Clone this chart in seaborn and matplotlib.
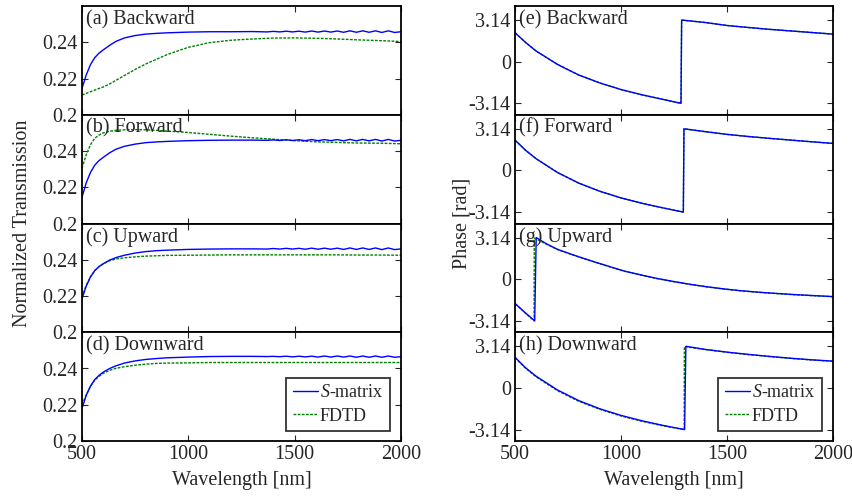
import numpy as np
import matplotlib.pyplot as plt
import seaborn as sns

# wavelength grids [nm]
wl_s = [500, 520, 540, 560, 580, 600, 630, 660, 700, 750, 800, 850, 900, 1000, 1100, 1200, 1300, 1370,
        1400, 1430, 1460, 1490, 1520, 1550, 1580, 1610, 1640, 1670, 1700, 1730, 1760, 1790, 1820, 1850,
        1880, 1910, 1940, 1970, 2000]
wl_f = [500, 520, 540, 560, 580, 600, 630, 660, 700, 750, 800, 850, 900, 1000, 1100, 1200, 1300, 1400,
        1500, 1600, 1700, 1800, 1900, 2000]

# normalized transmission, S-matrix
trans_s_a = [0.2145, 0.2220, 0.2277, 0.2315, 0.2340, 0.2358, 0.2383, 0.2405, 0.2424, 0.2437, 0.2445, 0.2449,
             0.2452, 0.2456, 0.2458, 0.2458, 0.2459, 0.2457,
             0.2460, 0.2457, 0.2461, 0.2457, 0.2461, 0.2456, 0.2462, 0.2456, 0.2462, 0.2456, 0.2462, 0.2455,
             0.2463, 0.2455, 0.2463, 0.2455, 0.2463, 0.2454, 0.2463, 0.2454, 0.2458]
trans_s_b = [0.2145, 0.2225, 0.2282, 0.2322, 0.2347, 0.2365, 0.2390, 0.2410, 0.2426, 0.2438, 0.2446, 0.2450,
             0.2453, 0.2457, 0.2459, 0.2460, 0.2460, 0.2459,
             0.2461, 0.2458, 0.2462, 0.2458, 0.2462, 0.2457, 0.2463, 0.2457, 0.2463, 0.2457, 0.2463, 0.2456,
             0.2464, 0.2456, 0.2464, 0.2456, 0.2464, 0.2455, 0.2464, 0.2455, 0.2459]
trans_s_c = [0.2185, 0.2255, 0.2305, 0.2340, 0.2362, 0.2378, 0.2398, 0.2412, 0.2425, 0.2437, 0.2445, 0.2450,
             0.2453, 0.2457, 0.2459, 0.2460, 0.2460, 0.2459,
             0.2462, 0.2459, 0.2463, 0.2459, 0.2463, 0.2458, 0.2464, 0.2458, 0.2464, 0.2458, 0.2464, 0.2457,
             0.2465, 0.2457, 0.2465, 0.2457, 0.2465, 0.2456, 0.2465, 0.2456, 0.2460]
trans_s_d = [0.2181, 0.2252, 0.2303, 0.2339, 0.2362, 0.2380, 0.2400, 0.2415, 0.2430, 0.2442, 0.2450, 0.2455,
             0.2459, 0.2463, 0.2466, 0.2467, 0.2467, 0.2466,
             0.2467, 0.2465, 0.2468, 0.2464, 0.2468, 0.2464, 0.2468, 0.2463, 0.2469, 0.2463, 0.2469, 0.2463,
             0.2469, 0.2462, 0.2469, 0.2462, 0.2469, 0.2462, 0.2469, 0.2462, 0.2465]

# normalized transmission, FDTD
trans_f_a = [0.2109, 0.2118, 0.2127, 0.2136, 0.2145, 0.2153, 0.2170, 0.2190, 0.2217, 0.2250, 0.2280, 0.2306,
             0.2332, 0.2372, 0.2398, 0.2411, 0.2418, 0.2423, 0.2424, 0.2422, 0.2418, 0.2413, 0.2409, 0.2404]
trans_f_b = [0.2305, 0.2380, 0.2435, 0.2470, 0.2488, 0.2500, 0.2509, 0.2514, 0.2517, 0.2518, 0.2517, 0.2514,
             0.2510, 0.2502, 0.2492, 0.2482, 0.2473, 0.2465, 0.2457, 0.2451, 0.2447, 0.2444, 0.2443, 0.2440]
trans_f_c = [0.2196, 0.2260, 0.2307, 0.2340, 0.2362, 0.2378, 0.2395, 0.2404, 0.2411, 0.2416, 0.2420, 0.2422,
             0.2424, 0.2425, 0.2426, 0.2427, 0.2427, 0.2427, 0.2427, 0.2427, 0.2427, 0.2426, 0.2426, 0.2425]
trans_f_d = [0.2200, 0.2255, 0.2302, 0.2336, 0.2357, 0.2373, 0.2390, 0.2401, 0.2410, 0.2418, 0.2424, 0.2428,
             0.2430, 0.2431, 0.2433, 0.2433, 0.2433, 0.2433, 0.2433, 0.2433, 0.2433, 0.2433, 0.2433, 0.2433]

# phase [rad]
wl_e = [500, 550, 600, 700, 800, 900, 1000, 1100, 1200, 1283, 1286, 1400, 1500, 1600, 1700, 1800, 1900, 2000]
phase_e = [2.19, 1.45, 0.80, -0.20, -1.00, -1.60, -2.10, -2.50, -2.85, -3.14, 3.14, 2.95, 2.73, 2.58, 2.44, 2.32, 2.20, 2.08]

wl_f_ph = [500, 550, 600, 700, 800, 900, 1000, 1100, 1200, 1294, 1297, 1400, 1500, 1600, 1700, 1800, 1900, 2000]
phase_f = [2.29, 1.52, 0.88, -0.15, -0.95, -1.57, -2.07, -2.48, -2.83, -3.14, 3.14, 2.92, 2.72, 2.56, 2.42, 2.29, 2.16, 2.04]

wl_g_s = [500, 550, 593, 600, 650, 702, 780, 858, 940, 1016, 1100, 1172, 1250, 1328, 1400, 1484, 1560, 1641,
          1720, 1797, 1900, 2000]
phase_g_s = [-1.83, -2.55, -3.14, 3.14, 2.65, 2.24, 1.80, 1.39, 0.98, 0.61, 0.30, 0.05, -0.18, -0.39, -0.56,
             -0.73, -0.86, -0.97, -1.06, -1.14, -1.23, -1.31]
wl_g_f = [500, 550, 590, 591, 650, 702, 780, 858, 940, 1016, 1100, 1172, 1250, 1328, 1400, 1484, 1560, 1641,
          1720, 1797, 1900, 2000]
phase_g_f = [-1.83, -2.58, -3.14, 3.10, 2.63, 2.23, 1.79, 1.38, 0.97, 0.60, 0.29, 0.04, -0.19, -0.40, -0.57,
             -0.74, -0.87, -0.98, -1.07, -1.15, -1.24, -1.32]

wl_h_s = [500, 550, 600, 700, 800, 900, 1000, 1100, 1200, 1300, 1306, 1400, 1500, 1600, 1700, 1800, 1900, 2000]
phase_h_s = [2.31, 1.52, 0.88, -0.15, -0.95, -1.57, -2.07, -2.48, -2.83, -3.14, 3.14, 2.90, 2.70, 2.53, 2.38, 2.24, 2.12, 2.02]
wl_h_f = [500, 550, 600, 700, 800, 900, 1000, 1100, 1200, 1298, 1299, 1400, 1500, 1600, 1700, 1800, 1900, 2000]
phase_h_f = [2.28, 1.48, 0.83, -0.20, -1.00, -1.61, -2.11, -2.52, -2.86, -3.14, 3.12, 2.89, 2.69, 2.52, 2.37, 2.23, 2.11, 2.01]

sns.set_style("ticks")
plt.rcParams['font.family'] = ['Liberation Serif', 'DejaVu Serif']
plt.rcParams['mathtext.fontset'] = 'custom'
plt.rcParams['mathtext.rm'] = 'Liberation Serif'
plt.rcParams['mathtext.it'] = 'Liberation Serif:italic'

FS = 14.5
blue = '#0000ff'
green = '#008000'
dots = (0, (2, 1))

fig = plt.figure(figsize=(8.52, 4.96), dpi=100)

left_panels = [('(a) Backward', trans_s_a, trans_f_a),
               ('(b) Forward', trans_s_b, trans_f_b),
               ('(c) Upward', trans_s_c, trans_f_c),
               ('(d) Downward', trans_s_d, trans_f_d)]
right_panels = [('(e) Backward', wl_e, phase_e, wl_e, phase_e),
                ('(f) Forward', wl_f_ph, phase_f, wl_f_ph, phase_f),
                ('(g) Upward', wl_g_s, phase_g_s, wl_g_f, phase_g_f),
                ('(h) Downward', wl_h_s, phase_h_s, wl_h_f, phase_h_f)]

top = 1 - 6 / 496
bot = 1 - 441 / 496
h = (top - bot) / 4


def style_axis(ax, label, last):
    ax.set_xlim(500, 2000)
    ax.set_xticks([500, 1000, 1500, 2000])
    ax.tick_params(direction='in', top=True, right=True, length=4, width=0.8, labelsize=FS, pad=3)
    if not last:
        ax.set_xticklabels([])
    ax.set_xlabel('')
    ax.set_ylabel('')
    for s in ax.spines.values():
        s.set_linewidth(1.3)
        s.set_color('black')
    ax.text(0.012, 0.965, label, transform=ax.transAxes, ha='left', va='top', fontsize=FS)


def add_legend(ax):
    hd, lb = ax.get_legend_handles_labels()
    leg = ax.legend(hd[::-1], lb[::-1], loc='lower right', fontsize=13, handlelength=1.4, handletextpad=0.1,
                    borderpad=0.35, labelspacing=0.35, frameon=True, fancybox=False, edgecolor='black',
                    bbox_to_anchor=(0.993, 0.01))
    leg.get_frame().set_linewidth(1.3)


for i, (label, ys, yf) in enumerate(left_panels):
    ax = fig.add_axes([82 / 852, top - (i + 1) * h, (401 - 82) / 852, h])
    sns.lineplot(x=wl_f, y=yf, ax=ax, color=green, linestyle=dots, lw=1.0, sort=False, estimator=None,
                 label='FDTD')
    sns.lineplot(x=wl_s, y=ys, ax=ax, color=blue, lw=1.0, sort=False, estimator=None, label='$S$-matrix')
    ax.set_ylim(0.2, 0.26)
    ax.set_yticks([0.2, 0.22, 0.24])
    ax.set_yticklabels(['0.2', '0.22', '0.24'])
    style_axis(ax, label, i == 3)
    if i == 3:
        add_legend(ax)
    else:
        ax.get_legend().remove()

for i, (label, xs, ys, xf, yf) in enumerate(right_panels):
    ax = fig.add_axes([515 / 852, top - (i + 1) * h, (833 - 515) / 852, h])
    sns.lineplot(x=xf, y=yf, ax=ax, color=green, linestyle=dots, lw=1.0, sort=False, estimator=None,
                 label='FDTD')
    sns.lineplot(x=xs, y=ys, ax=ax, color=blue, lw=1.0, sort=False, estimator=None, label='$S$-matrix')
    ax.set_ylim(-4.0, 4.2)
    ax.set_yticks([-3.14, 0, 3.14])
    ax.set_yticklabels(['-3.14', '0', '3.14'])
    style_axis(ax, label, i == 3)
    if i == 3:
        add_legend(ax)
    else:
        ax.get_legend().remove()

fig.text(0.026, (top + bot) / 2, 'Normalized Transmission', rotation=90, ha='center', va='center', fontsize=FS)
fig.text(462 / 852, (top + bot) / 2, 'Phase [rad]', rotation=90, ha='center', va='center', fontsize=FS)
fig.text((82 + 401) / 2 / 852, 1 - 481 / 496, 'Wavelength [nm]', ha='center', va='center', fontsize=FS)
fig.text((515 + 833) / 2 / 852, 1 - 481 / 496, 'Wavelength [nm]', ha='center', va='center', fontsize=FS)

fig.savefig('out.png', dpi=100)
